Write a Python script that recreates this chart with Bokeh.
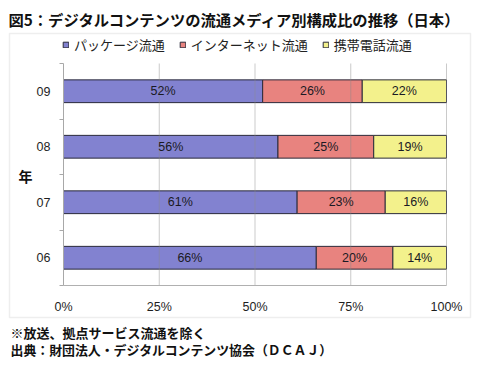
from bokeh.plotting import figure
from bokeh.models import (Label, BoxAnnotation, Legend, LegendItem, FixedTicker,
                          ColumnDataSource, Range1d)
from bokeh.embed import file_html
from bokeh.resources import INLINE
from bokeh.core.properties import value

# ---- data ----
years = ["06", "07", "08", "09"]
series_names = ["パッケージ流通", "インターネット流通", "携帯電話流通"]
package = [66, 61, 56, 52]
internet = [20, 23, 25, 26]
mobile = [14, 16, 19, 22]
x_ticks = [0, 25, 50, 75, 100]
x_tick_labels = ["0%", "25%", "50%", "75%", "100%"]
title_text = "図5：デジタルコンテンツの流通メディア別構成比の推移（日本）"
note1 = "※放送、拠点サービス流通を除く"
note2 = "出典：財団法人・デジタルコンテンツ協会（ＤＣＡＪ）"
y_axis_title = "年"

colors = ["#8282D0", "#E8837F", "#F3F18C"]
JP = "Noto Sans CJK JP"
NUM = "Liberation Sans"

W, H = 480, 365
# plot area (pixels) inside the whole-canvas frame
PX_L, PX_R, PX_T, PX_B = 63, 446, 63, 285
n = len(years)
ux = (PX_R - PX_L) / 100.0
uy = (PX_B - PX_T) / n
x_range = Range1d(-PX_L / ux, 100 + (W - PX_R) / ux)
y_range = Range1d(-(H - PX_B) / uy, n + PX_T / uy)

p = figure(width=W, height=H, output_backend="svg", toolbar_location=None,
           x_range=x_range, y_range=y_range, min_border=0,
           min_border_left=0, min_border_right=0, min_border_top=0, min_border_bottom=0)
p.outline_line_color = None
p.background_fill_color = "white"
p.border_fill_color = "white"
p.xgrid.visible = False
p.ygrid.visible = False

# chart box
p.add_layout(BoxAnnotation(left=9, right=470, top=H - 33, bottom=H - 317,
                           left_units="screen", right_units="screen",
                           top_units="screen", bottom_units="screen",
                           fill_alpha=0, line_color="#c8c8c8", line_width=1.5, level="underlay"))

ypos = [i + 0.5 for i in range(n)]
series = [package, internet, mobile]
left = [0] * n
renderers = []
lab_x, lab_y, lab_t = [], [], []
for vals, col in zip(series, colors):
    right = [l + v for l, v in zip(left, vals)]
    src = ColumnDataSource(dict(y=ypos, left=left, right=right))
    r = p.hbar(y="y", left="left", right="right", height=0.41, source=src,
               fill_color=col, line_color="#2b2b3b", line_width=1)
    renderers.append(r)
    for yy, l, v in zip(ypos, left, vals):
        lab_x.append(l + v / 2)
        lab_y.append(yy)
        lab_t.append(f"{v}%")
    left = right

# vertical grid lines (drawn over the bars, as in the reference)
gx = x_ticks[1:]
p.segment(x0=gx, x1=gx, y0=[0] * len(gx), y1=[n] * len(gx),
          line_color="#8a8a8a", line_alpha=0.45, line_width=1)

p.text(x=lab_x, y=lab_y, text=lab_t, text_align="center", text_baseline="middle",
       text_font=value(NUM), text_font_size="12.5px", text_color="#1a1a24")

# x axis at y=0
p.xaxis.fixed_location = 0
p.xaxis.bounds = (0, 100)
p.xaxis.ticker = FixedTicker(ticks=x_ticks)
p.xaxis.major_label_overrides = {t: s for t, s in zip(x_ticks, x_tick_labels)}
p.xaxis.major_label_text_font = NUM
p.xaxis.major_label_text_font_size = "12.5px"
p.xaxis.major_label_text_color = "#1e1e1e"
p.xaxis.axis_line_color = "#b0b0b0"
p.xaxis.major_tick_out = 0
p.xaxis.major_tick_in = 0
p.xaxis.minor_tick_out = 0
p.xaxis.major_label_standoff = 14

# y axis at x=0
p.yaxis.fixed_location = 0
p.yaxis.bounds = (0, n)
p.yaxis.ticker = FixedTicker(ticks=ypos, minor_ticks=list(range(n + 1)))
p.yaxis.major_label_overrides = {y: s for y, s in zip(ypos, years)}
p.yaxis.major_label_text_font = NUM
p.yaxis.major_label_text_font_size = "12.5px"
p.yaxis.major_label_text_color = "#1e1e1e"
p.yaxis.axis_line_color = "#a8a8a8"
p.yaxis.major_tick_out = 0
p.yaxis.major_tick_in = 0
p.yaxis.minor_tick_out = 4
p.yaxis.minor_tick_in = 0
p.yaxis.minor_tick_line_color = "#a8a8a8"
p.yaxis.major_label_standoff = 9

# legend
items = [LegendItem(label=s, renderers=[r]) for s, r in zip(series_names, renderers)]
legend = Legend(items=items, orientation="horizontal", location=(62, H - 47 - 7),
                glyph_width=7, glyph_height=7, label_standoff=5, spacing=14,
                padding=0, margin=0, label_height=14,
                label_text_font=JP, label_text_font_size="13px", label_text_color="#222222",
                border_line_color=None, background_fill_alpha=0)
p.add_layout(legend, "center")

# texts
p.add_layout(Label(x=8, y=H - 18, x_units="screen", y_units="screen", text=title_text,
                   text_font=JP, text_font_size="15.3px", text_font_style="bold",
                   text_baseline="middle", text_align="left", text_color="#111111"))
p.add_layout(Label(x=25, y=H - 175, x_units="screen", y_units="screen", text=y_axis_title,
                   text_font=JP, text_font_size="14px", text_font_style="bold",
                   text_baseline="middle", text_align="center", text_color="#111111"))
p.add_layout(Label(x=10, y=H - 332, x_units="screen", y_units="screen", text=note1,
                   text_font=JP, text_font_size="13px", text_font_style="bold",
                   text_baseline="middle", text_align="left", text_color="#111111"))
p.add_layout(Label(x=10, y=H - 349, x_units="screen", y_units="screen", text=note2,
                   text_font=JP, text_font_size="12.9px", text_font_style="bold",
                   text_baseline="middle", text_align="left", text_color="#111111"))

open("out.html", "w").write(file_html(p, INLINE))
